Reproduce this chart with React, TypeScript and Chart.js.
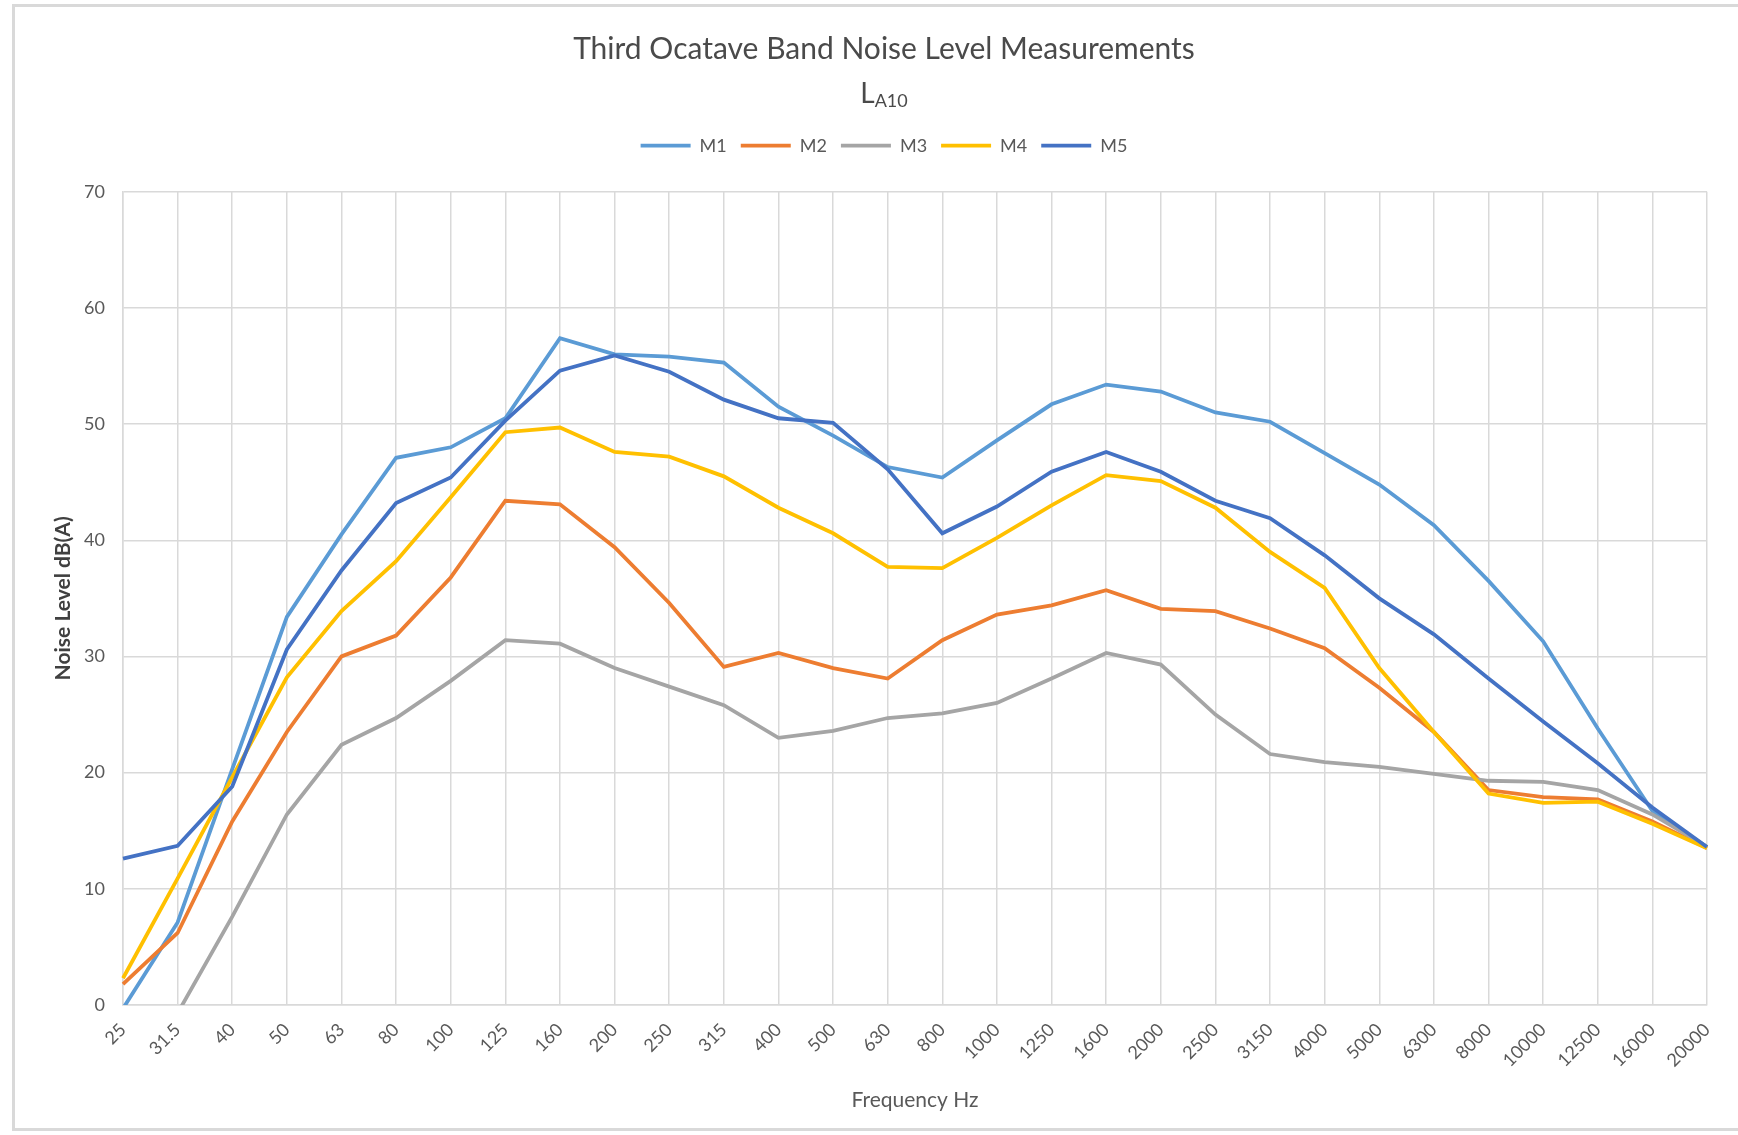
import React, { useEffect, useRef } from "react";
import { Chart, registerables } from "chart.js";

Chart.register(...registerables);

// ---------- data ----------
const frequencies = [
  "25", "31.5", "40", "50", "63", "80", "100", "125", "160", "200",
  "250", "315", "400", "500", "630", "800", "1000", "1250", "1600", "2000",
  "2500", "3150", "4000", "5000", "6300", "8000", "10000", "12500", "16000", "20000",
];

const m1 = [-0.3, 7.1, 20.3, 33.4, 40.5, 47.1, 48.0, 50.5, 57.4, 56.0, 55.8, 55.3, 51.5, 49.0, 46.3, 45.4, 48.6, 51.7, 53.4, 52.8, 51.0, 50.2, 47.5, 44.8, 41.3, 36.5, 31.3, 23.8, 16.7, 13.6];
const m2 = [1.8, 6.2, 15.8, 23.5, 30.0, 31.8, 36.8, 43.4, 43.1, 39.4, 34.6, 29.1, 30.3, 29.0, 28.1, 31.4, 33.6, 34.4, 35.7, 34.1, 33.9, 32.4, 30.7, 27.3, 23.5, 18.5, 17.9, 17.7, 15.8, 13.5];
const m3 = [-6, -0.7, 7.6, 16.4, 22.4, 24.7, 27.9, 31.4, 31.1, 29.0, 27.4, 25.8, 23.0, 23.6, 24.7, 25.1, 26.0, 28.1, 30.3, 29.3, 25.0, 21.6, 20.9, 20.5, 19.9, 19.3, 19.2, 18.5, 16.4, 13.6];
const m4 = [2.3, 10.9, 19.6, 28.2, 33.9, 38.2, 43.7, 49.3, 49.7, 47.6, 47.2, 45.5, 42.8, 40.6, 37.7, 37.6, 40.2, 43.0, 45.6, 45.1, 42.8, 39.0, 35.9, 29.0, 23.5, 18.2, 17.4, 17.5, 15.6, 13.5];
const m5 = [12.6, 13.7, 18.8, 30.6, 37.4, 43.2, 45.4, 50.3, 54.6, 55.9, 54.5, 52.1, 50.5, 50.1, 46.1, 40.6, 42.9, 45.9, 47.6, 45.9, 43.4, 41.9, 38.7, 35.0, 31.9, 28.1, 24.4, 20.8, 17.0, 13.6];

const seriesNames = ["M1", "M2", "M3", "M4", "M5"];
const seriesValues = [m1, m2, m3, m4, m5];
const seriesColors = ["#5B9BD5", "#ED7D31", "#A5A5A5", "#FFC000", "#4472C4"];

const titleText = "Third Ocatave Band Noise Level Measurements";
const subtitleMain = "L";
const subtitleSub = "A10";
const xTitle = "Frequency Hz";
const yTitle = "Noise Level dB(A)";
const yMin = 0;
const yMax = 70;
const yStep = 10;

const FONT = "Lato, 'Open Sans', sans-serif";
const TEXT = "#595959";

export default function App() {
  const canvasRef = useRef<HTMLCanvasElement>(null);

  useEffect(() => {
    const canvas = canvasRef.current;
    if (!canvas) return;

    const legendSpacer = {
      id: "legendSpacer",
      beforeLayout(chart: any) {
        const lg = chart.legend;
        if (lg && !lg.__patched) {
          const fit = lg.fit;
          lg.fit = function () {
            fit.call(this);
            this.height += 27;
          };
          lg.__patched = true;
        }
      },
    };

    const subtitlePlugin = {
      id: "subtitleSub",
      afterDraw(chart: any) {
        const ctx = chart.ctx;
        ctx.save();
        const mainFont = `normal 28px ${FONT}`;
        const subFont = `normal 18px ${FONT}`;
        ctx.font = mainFont;
        const w1 = ctx.measureText(subtitleMain).width;
        ctx.font = subFont;
        const w2 = ctx.measureText(subtitleSub).width;
        const cx = 884;
        const baseY = 103;
        const x0 = cx - (w1 + w2) / 2;
        ctx.fillStyle = "#4a4a4a";
        ctx.textBaseline = "alphabetic";
        ctx.textAlign = "left";
        ctx.font = mainFont;
        ctx.fillText(subtitleMain, x0, baseY);
        ctx.font = subFont;
        ctx.fillText(subtitleSub, x0 + w1, baseY + 4);
        ctx.restore();
      },
    };

    const chart = new Chart(canvas, {
      type: "line",
      data: {
        labels: frequencies,
        datasets: seriesNames.map((name, i) => ({
          label: name,
          data: seriesValues[i],
          borderColor: seriesColors[i],
          backgroundColor: seriesColors[i],
          borderWidth: 3.8,
          pointRadius: 0,
          pointHoverRadius: 0,
          tension: 0,
          fill: false,
          order: seriesNames.length - i,
        })),
      },
      options: {
        responsive: false,
        maintainAspectRatio: false,
        animation: false,
        events: [],
        layout: { padding: { left: 61, right: 31, top: 0, bottom: 0 } },
        plugins: {
          title: {
            display: true,
            text: titleText,
            color: "#4a4a4a",
            font: { family: FONT, size: 30, weight: "normal", lineHeight: 1.2 },
            padding: { top: 31, bottom: 55.7 },
          },
          legend: {
            display: true,
            position: "top",
            labels: {
              usePointStyle: true,
              pointStyle: "line",
              pointStyleWidth: 50,
              padding: 14,
              color: TEXT,
              font: { family: FONT, size: 18 },
              sort: (a: any, b: any) => a.datasetIndex - b.datasetIndex,
            },
          },
          tooltip: { enabled: false },
        },
        scales: {
          x: {
            type: "category",
            offset: false,
            grid: { color: "#D9D9D9", lineWidth: 1.5, drawTicks: false },
            border: { color: "#D9D9D9", width: 1.5 },
            ticks: {
              autoSkip: false,
              minRotation: 45,
              maxRotation: 45,
              padding: 14,
              color: TEXT,
              font: { family: FONT, size: 18 },
            },
            title: {
              display: true,
              text: xTitle,
              color: TEXT,
              font: { family: FONT, size: 21, weight: "normal", lineHeight: 1.2 },
              padding: { top: 0, bottom: 22 },
            },
            afterFit(scale: any) {
              scale.height = 130;
            },
          },
          y: {
            min: yMin,
            max: yMax,
            grid: { color: "#D9D9D9", lineWidth: 1.5, drawTicks: false },
            border: { color: "#D9D9D9", width: 1.5 },
            ticks: {
              stepSize: yStep,
              padding: 18,
              color: TEXT,
              font: { family: FONT, size: 18 },
            },
            title: {
              display: true,
              text: yTitle,
              color: "#404040",
              font: { family: FONT, size: 21, weight: "bold", lineHeight: 1.2 },
              padding: { top: -10.6, bottom: 0 },
            },
            afterFit(scale: any) {
              scale.width = 62;
            },
          },
        },
      },
      plugins: [legendSpacer, subtitlePlugin],
    } as any);

    return () => chart.destroy();
  }, []);

  return (
    <div style={{ position: "absolute", left: 0, top: 0, width: 1738, height: 1135, background: "#fff" }}>
      <div
        style={{
          position: "absolute",
          left: 12,
          top: 4,
          width: 1738 - 12,
          height: 1131 - 4,
          border: "3px solid #D9D9D9",
          borderRight: "none",
          boxSizing: "border-box",
        }}
      />
      <canvas ref={canvasRef} width={1738} height={1135} style={{ position: "absolute", left: 0, top: 0 }} />
    </div>
  );
}
